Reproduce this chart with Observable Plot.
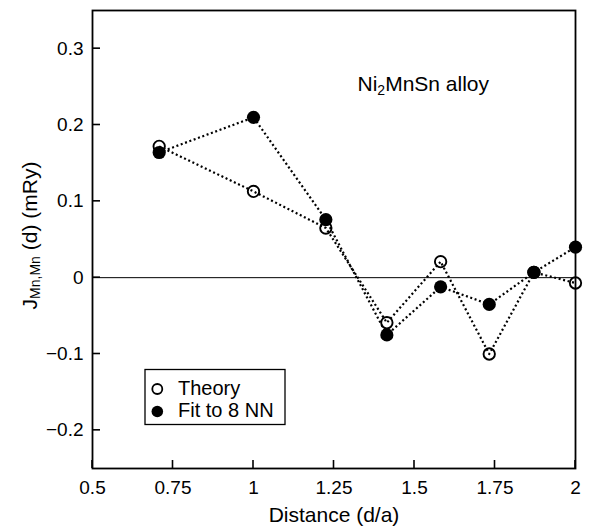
<!DOCTYPE html>
<html><head><meta charset="utf-8">
<script src="https://cdn.jsdelivr.net/npm/d3@7"></script>
<script src="https://cdn.jsdelivr.net/npm/@observablehq/plot@0.6"></script>
<style>
html,body{margin:0;padding:0;background:#fff;}
</style></head><body>
<div id="chart"></div>
<script>
const distance = [0.7071, 1.0, 1.2247, 1.4142, 1.5811, 1.7321, 1.8708, 2.0];
const theory = [0.172, 0.113, 0.065, -0.059, 0.021, -0.100, 0.007, -0.007];
const fit = [0.164, 0.210, 0.076, -0.075, -0.012, -0.035, 0.007, 0.040];
const seriesNames = ["Theory", "Fit to 8 NN"];
const xTicks = [0.5, 0.75, 1, 1.25, 1.5, 1.75, 2];
const xTickLabels = ["0.5", "0.75", "1", "1.25", "1.5", "1.75", "2"];
const yTicks = [-0.2, -0.1, 0, 0.1, 0.2, 0.3];
const yTickLabels = ["\u22120.2", "\u22120.1", "0", "0.1", "0.2", "0.3"];
const xLabel = "Distance (d/a)";
const yLabelParts = ["J", "Mn,Mn", " (d) (mRy)"];
const annotationParts = ["Ni", "2", "MnSn alloy"];

const rows = [
  ...distance.map((d, i) => ({d, v: theory[i], s: seriesNames[0]})),
  ...distance.map((d, i) => ({d, v: fit[i], s: seriesNames[1]}))
];
const theoryRows = rows.filter(r => r.s === seriesNames[0]);
const fitRows = rows.filter(r => r.s === seriesNames[1]);
const font = "'Liberation Sans', Arial, Helvetica, sans-serif";

const W = 593, H = 526, mL = 92, mR = 18, mT = 10, mB = 58, tickLen = 8;

const chart = Plot.plot({
  width: W, height: H,
  marginLeft: mL, marginRight: mR, marginTop: mT, marginBottom: mB,
  style: {fontFamily: font, fontSize: "19px", color: "#000", background: "#fff"},
  x: {domain: [0.5, 2]},
  y: {domain: [-0.25, 0.35]},
  marks: [
    Plot.ruleY([0], {stroke: "#000", strokeWidth: 1}),
    Plot.line(rows, {x: "d", y: "v", z: "s", stroke: "#000", strokeWidth: 2.2, strokeDasharray: "2 2.6", strokeLinecap: "butt"}),
    Plot.dot(fitRows, {x: "d", y: "v", r: 6.6, fill: "#000", stroke: "none"}),
    Plot.dot(theoryRows, {x: "d", y: "v", r: 5.7, fill: "none", stroke: "#000", strokeWidth: 1.9}),
    Plot.axisX({ticks: xTicks, tickFormat: d => xTickLabels[xTicks.indexOf(d)], tickSize: 0, tickPadding: 12, label: null, fontSize: 19}),
    Plot.axisY({ticks: yTicks, tickFormat: d => yTickLabels[yTicks.indexOf(d)], tickSize: 0, tickPadding: 9, label: null, fontSize: 19}),
    Plot.frame({stroke: "#000", strokeWidth: 1.8}),
    Plot.text([xLabel], {text: d => d, frameAnchor: "bottom", dy: 53, lineAnchor: "bottom", fontSize: 21}),
    Plot.text([yLabelParts.join("")], {text: d => d, frameAnchor: "left", dx: -56, dy: -4, rotate: -90, textAnchor: "middle", lineAnchor: "bottom", fontSize: 21}),
    Plot.text([annotationParts.join("")], {text: d => d, x: 1.323, y: 0.244, textAnchor: "start", lineAnchor: "bottom", fontSize: 21})
  ]
});
document.getElementById("chart").appendChild(chart);

const svg = d3.select(chart);

// inward ticks, positioned through Plot's own scales
const sx = chart.scale("x"), sy = chart.scale("y");
const yBottom = H - mB;
const tg = svg.append("g").attr("stroke", "#000").attr("stroke-width", 1.6);
xTicks.forEach(v => {
  const px = sx.apply(v);
  tg.append("line").attr("x1", px).attr("x2", px).attr("y1", yBottom).attr("y2", yBottom - tickLen);
});
yTicks.forEach(v => {
  const py = sy.apply(v);
  tg.append("line").attr("x1", mL).attr("x2", mL + tickLen).attr("y1", py).attr("y2", py);
});

// rich text (sub/superscripts) for labels
svg.selectAll("text").each(function() {
  const t = this.textContent;
  if (t === yLabelParts.join("")) {
    const s = d3.select(this); s.text("");
    s.append("tspan").text(yLabelParts[0]);
    s.append("tspan").attr("font-size", 14).attr("dy", 3).text(yLabelParts[1]);
    s.append("tspan").attr("dy", -3).text(yLabelParts[2]);
  } else if (t === annotationParts.join("")) {
    const s = d3.select(this); s.text("");
    s.append("tspan").text(annotationParts[0]);
    s.append("tspan").attr("font-size", 14).attr("dy", 4).text(annotationParts[1]);
    s.append("tspan").attr("dy", -4).text(annotationParts[2]);
  }
});

// legend box inside plot
const lg = svg.append("g").attr("font-family", font).attr("font-size", 20).attr("fill", "#000").attr("text-anchor", "start");
lg.append("rect").attr("x", 145).attr("y", 369.5).attr("width", 140).attr("height", 55)
  .attr("fill", "#fff").attr("stroke", "#000").attr("stroke-width", 1.3);
lg.append("circle").attr("cx", 157.3).attr("cy", 389).attr("r", 5).attr("fill", "none").attr("stroke", "#000").attr("stroke-width", 1.8);
lg.append("circle").attr("cx", 157.3).attr("cy", 411.5).attr("r", 5.8).attr("fill", "#000");
lg.append("text").attr("x", 178).attr("y", 394.5).attr("text-anchor", "start").text(seriesNames[0]);
lg.append("text").attr("x", 178).attr("y", 417).attr("text-anchor", "start").text(seriesNames[1]);
</script>
</body></html>
